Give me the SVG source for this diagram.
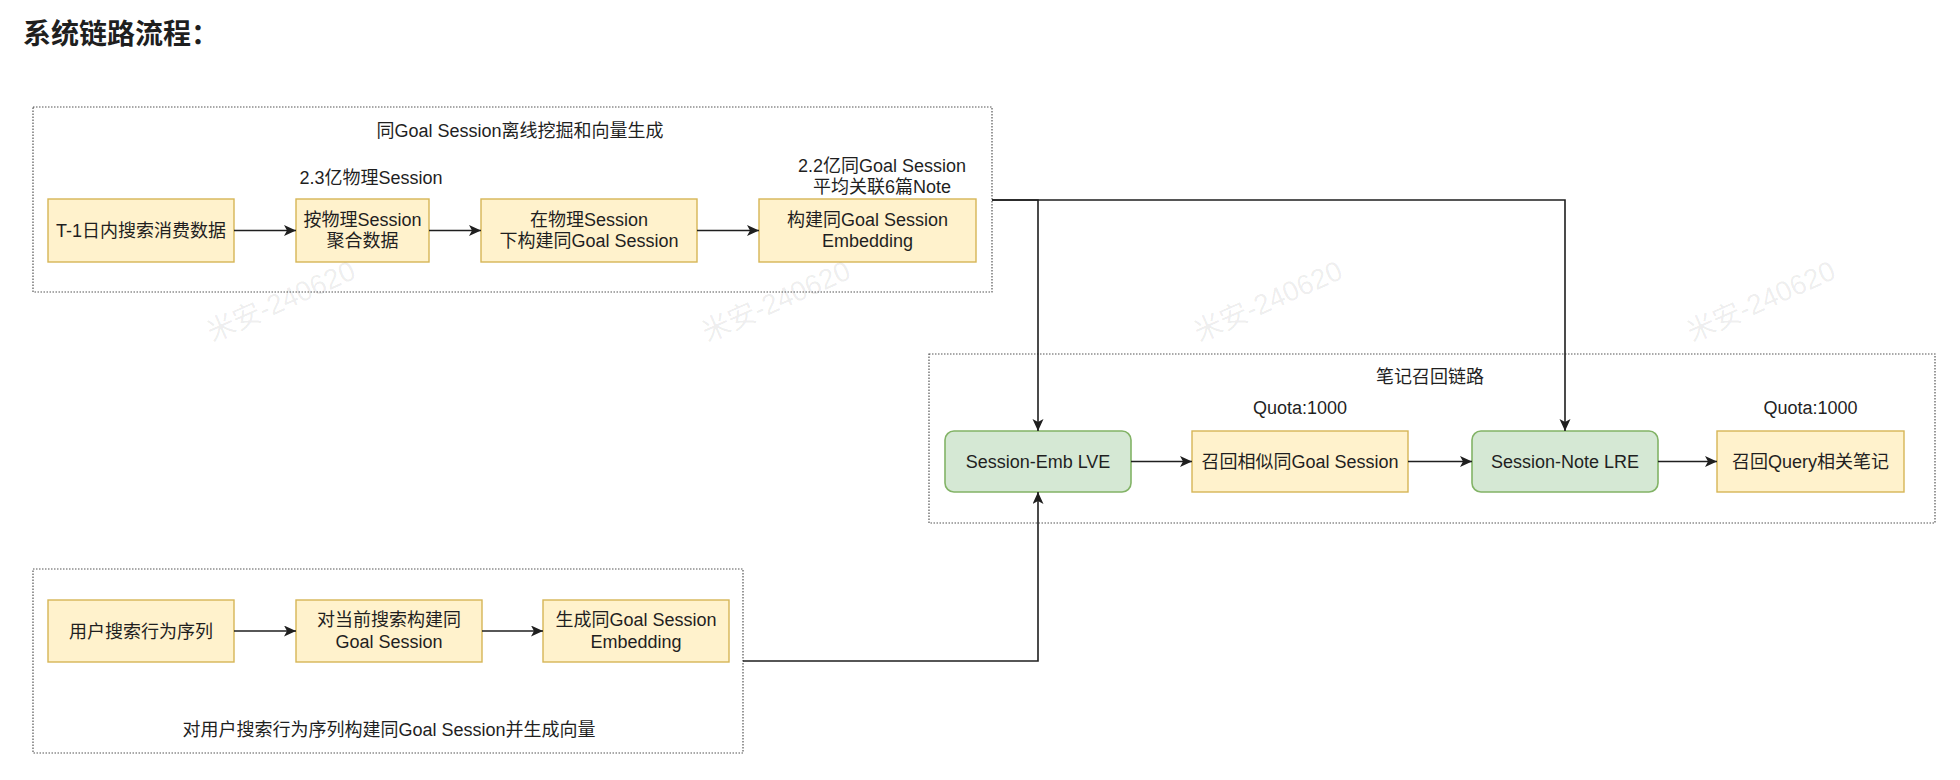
<svg xmlns="http://www.w3.org/2000/svg" width="1960" height="780" viewBox="0 0 1960 780">
<style>
text{font-family:"Liberation Sans","Noto Sans CJK SC",sans-serif;font-size:18px;fill:#1f1f1f}
.c{text-anchor:middle}
.h{font-family:"Noto Sans CJK SC",sans-serif;font-size:28px;font-weight:600}
.grp{fill:#fff;stroke:#555;stroke-width:1.2;stroke-dasharray:1.5 1.5}
.y{fill:#fff2cc;stroke:#d6b656;stroke-width:1.4}
.g{fill:#d5e8d4;stroke:#82b366;stroke-width:1.6}
.e{fill:none;stroke:#1f1f1f;stroke-width:1.6;marker-end:url(#ah)}
.wm{font-size:28px;fill:#000;fill-opacity:0.08;text-anchor:middle}
</style>
<defs>
<marker id="ah" markerUnits="userSpaceOnUse" markerWidth="13" markerHeight="12" refX="12" refY="5.5" orient="auto">
<path d="M0,0 L12,5.5 L0,11 L3,5.5 Z" fill="#1f1f1f"/>
</marker>
</defs>
<rect width="1960" height="780" fill="#fff"/>
<text class="h" x="23" y="44">系统链路流程：</text>

<g id="offline-group">
<rect class="grp" x="33" y="107" width="959" height="185"/>
<text class="c" x="520" y="137">同Goal Session离线挖掘和向量生成</text>
<text class="c" x="371" y="184">2.3亿物理Session</text>
<text class="c" x="882" y="171.5">2.2亿同Goal Session</text>
<text class="c" x="882" y="193">平均关联6篇Note</text>
</g>
<g id="n-t1">
<rect class="y" x="48" y="199" width="186" height="63"/>
<text class="c" x="141" y="237">T-1日内搜索消费数据</text>
</g>
<g id="n-agg">
<rect class="y" x="296" y="199" width="133" height="63"/>
<text class="c" x="362.5" y="225.5">按物理Session</text>
<text class="c" x="362.5" y="247">聚合数据</text>
</g>
<g id="n-build">
<rect class="y" x="481" y="199" width="216" height="63"/>
<text class="c" x="589" y="225.5">在物理Session</text>
<text class="c" x="589" y="247">下构建同Goal Session</text>
</g>
<g id="n-emb">
<rect class="y" x="759" y="199" width="217" height="63"/>
<text class="c" x="867.5" y="225.5">构建同Goal Session</text>
<text class="c" x="867.5" y="247">Embedding</text>
</g>

<g id="recall-group">
<rect class="grp" x="929" y="354" width="1006" height="169"/>
<text class="c" x="1430" y="383">笔记召回链路</text>
<text class="c" x="1300" y="414">Quota:1000</text>
<text class="c" x="1810.5" y="414">Quota:1000</text>
</g>
<g id="n-lve">
<rect class="g" x="945" y="431" width="186" height="61" rx="9"/>
<text class="c" x="1038" y="468">Session-Emb LVE</text>
</g>
<g id="n-sim">
<rect class="y" x="1192" y="431" width="216" height="61"/>
<text class="c" x="1300" y="468">召回相似同Goal Session</text>
</g>
<g id="n-lre">
<rect class="g" x="1472" y="431" width="186" height="61" rx="9"/>
<text class="c" x="1565" y="468">Session-Note LRE</text>
</g>
<g id="n-note">
<rect class="y" x="1717" y="431" width="187" height="61"/>
<text class="c" x="1810.5" y="468">召回Query相关笔记</text>
</g>

<g id="online-group">
<rect class="grp" x="33" y="569" width="710" height="184"/>
<text class="c" x="389" y="736">对用户搜索行为序列构建同Goal Session并生成向量</text>
</g>
<g id="n-seq">
<rect class="y" x="48" y="600" width="186" height="62"/>
<text class="c" x="141" y="637.5">用户搜索行为序列</text>
</g>
<g id="n-cur">
<rect class="y" x="296" y="600" width="186" height="62"/>
<text class="c" x="389" y="626">对当前搜索构建同</text>
<text class="c" x="389" y="647.5">Goal Session</text>
</g>
<g id="n-gen">
<rect class="y" x="543" y="600" width="186" height="62"/>
<text class="c" x="636" y="626">生成同Goal Session</text>
<text class="c" x="636" y="647.5">Embedding</text>
</g>

<g id="connectors">
<path class="e" d="M234,230.5 H296"/>
<path class="e" d="M429,230.5 H481"/>
<path class="e" d="M697,230.5 H759"/>
<path class="e" d="M992,200 H1038 V431"/>
<path class="e" d="M992,200 H1565 V431"/>
<path class="e" d="M1131,461.5 H1192"/>
<path class="e" d="M1408,461.5 H1472"/>
<path class="e" d="M1658,461.5 H1717"/>
<path class="e" d="M234,631 H296"/>
<path class="e" d="M482,631 H543"/>
<path class="e" d="M743,661 H1038 V492"/>
</g>

<g id="watermarks">
<text class="wm" transform="translate(285,310) rotate(-24)">米安-240620</text>
<text class="wm" transform="translate(780,310) rotate(-24)">米安-240620</text>
<text class="wm" transform="translate(1272,310) rotate(-24)">米安-240620</text>
<text class="wm" transform="translate(1765,310) rotate(-24)">米安-240620</text>
</g>
</svg>
